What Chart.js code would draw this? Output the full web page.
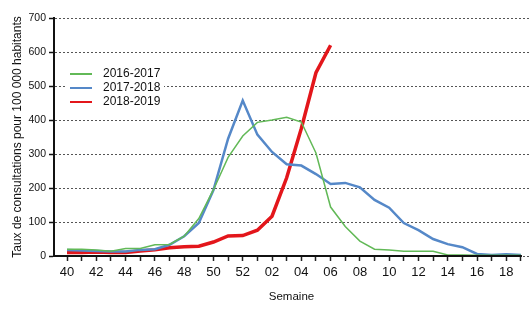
<!DOCTYPE html>
<html>
<head>
<meta charset="utf-8">
<script src="https://cdn.jsdelivr.net/npm/chart.js@4"></script>
<style>
  html, body { margin: 0; padding: 0; background: #fff; }
  #wrap { width: 529px; height: 314px; position: relative; }
</style>
</head>
<body>
<div id="wrap"><canvas id="chart"></canvas></div>
<script>
// --- DONNEES ---
const weeks = ['40','41','42','43','44','45','46','47','48','49','50','51','52',
               '01','02','03','04','05','06','07','08','09','10','11','12','13','14','15','16','17','18','19'];
const season1617 = [20,20,18,14,22,22,33,34,58,110,195,290,353,393,400,408,394,303,144,87,44,20,18,14,14,14,3,3,2,2,2,2];
const season1718 = [18,16,15,13,13,18,20,33,58,97,194,345,457,357,306,270,266,241,212,215,202,165,142,97,76,50,35,26,6,3,5,3];
const season1819 = [10,10,12,10,10,15,18,24,27,29,41,59,60,76,117,230,375,539,620];
const seriesNames = ['2016-2017', '2017-2018', '2018-2019'];
const yTicks = [0, 100, 200, 300, 400, 500, 600, 700];

const FONT = '"Liberation Sans", Arial, sans-serif';

const toPoints = arr => arr.map((v, i) => ({ x: i, y: v }));

// legende dessinee a la main (position fixe, fond blanc sur la grille)
const legendBox = {
    id: 'legendBox',
    beforeDatasetsDraw(chart) {
        const ctx = chart.ctx;
        ctx.save();
        ctx.fillStyle = '#fff';
        ctx.fillRect(67, 64, 97, 46);
        ctx.restore();
    },
    afterDraw(chart) {
        const ctx = chart.ctx;
        ctx.save();
        ctx.font = '12px ' + FONT;
        ctx.textBaseline = 'middle';
        chart.data.datasets.forEach((ds, i) => {
            const y = 74 + i * 14;
            ctx.strokeStyle = ds.borderColor;
            ctx.lineWidth = 2;
            ctx.beginPath();
            ctx.moveTo(70, y);
            ctx.lineTo(92, y);
            ctx.stroke();
            ctx.fillStyle = '#111';
            ctx.fillText(ds.label, 103, y);
        });
        // source (coupee en bas)
        ctx.font = '8px ' + FONT;
        ctx.fillStyle = '#888';
        ctx.textBaseline = 'alphabetic';
        ctx.fillText('Source : Réseau Sentinelles', 48, 320);
        ctx.restore();
    }
};

// axe X plein jusqu'a la derniere semaine
const xAxisLine = {
    id: 'xAxisLine',
    afterDatasetsDraw(chart) {
        const { ctx, chartArea, scales } = chart;
        ctx.save();
        ctx.strokeStyle = '#111';
        ctx.lineWidth = 2;
        ctx.beginPath();
        ctx.moveTo(chartArea.left, chartArea.bottom);
        ctx.lineTo(scales.x.getPixelForValue(weeks.length - 1) + 1, chartArea.bottom);
        ctx.stroke();
        ctx.restore();
    }
};

new Chart(document.getElementById('chart'), {
    type: 'line',
    data: {
        datasets: [
            { label: seriesNames[0], data: toPoints(season1617), borderColor: '#62b957', borderWidth: 1.5 },
            { label: seriesNames[1], data: toPoints(season1718), borderColor: '#5588c8', borderWidth: 2.5 },
            { label: seriesNames[2], data: toPoints(season1819), borderColor: '#e3161b', borderWidth: 3.5 }
        ]
    },
    options: {
        responsive: true,
        maintainAspectRatio: false,
        animation: false,
        layout: { padding: { top: 18, right: 0, bottom: 0, left: 0 } },
        elements: { point: { radius: 0 }, line: { tension: 0 } },
        plugins: { legend: { display: false }, tooltip: { enabled: false } },
        scales: {
            x: {
                type: 'linear',
                min: -0.89,
                max: 31.55,
                afterBuildTicks: s => { s.ticks = weeks.map((w, i) => ({ value: i })); },
                afterFit: s => { s.height = 58; },
                grid: { drawOnChartArea: false, drawTicks: true, tickLength: 5, tickColor: '#222', tickWidth: 1.5 },
                border: { display: false },
                ticks: {
                    autoSkip: false, maxRotation: 0, padding: 4,
                    color: '#111', font: { family: FONT, size: 13 },
                    callback: (v, idx) => (idx % 2 === 0 ? weeks[idx] : '')
                },
                title: {
                    display: true, text: 'Semaine', color: '#111',
                    font: { family: FONT, size: 11.5 }, padding: { top: 0, bottom: 10 }
                }
            },
            y: {
                min: 0,
                max: 700,
                afterBuildTicks: s => { s.ticks = yTicks.map(v => ({ value: v })); },
                afterFit: s => { s.width = 54; },
                grid: { color: '#555', lineWidth: 1, tickLength: 5, tickColor: '#111', tickWidth: 1.5 },
                border: { display: true, color: '#111', width: 2, dash: [2, 2] },
                ticks: { padding: 3, color: '#111', font: { family: FONT, size: 10.5 } },
                title: {
                    display: true, text: 'Taux de consultations pour 100 000 habitants', color: '#111',
                    font: { family: FONT, size: 12 }, padding: { top: 10.5, bottom: 0 }
                }
            }
        }
    },
    plugins: [legendBox, xAxisLine]
});
</script>
</body>
</html>
